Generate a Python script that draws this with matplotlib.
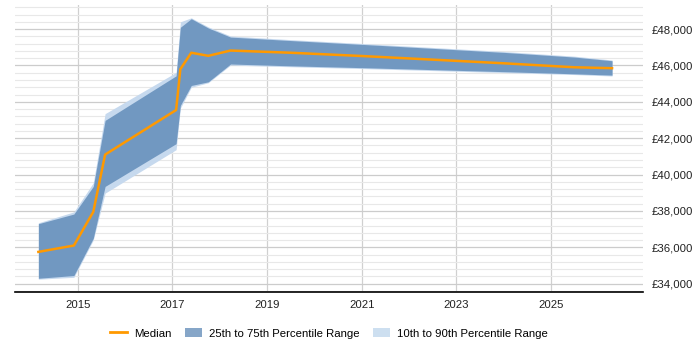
import matplotlib.pyplot as plt
from matplotlib.patches import Patch
from matplotlib.lines import Line2D
from matplotlib.ticker import FuncFormatter, MultipleLocator

# Data
years = [2014.17, 2014.92, 2015.33, 2015.58, 2017.08, 2017.17, 2017.40, 2017.76,
         2018.23, 2019.5, 2021.0, 2022.5, 2024.0, 2025.5, 2026.29]
median = [35750, 36100, 37950, 41100, 43550, 45800, 46700, 46530,
          46820, 46700, 46520, 46320, 46120, 45900, 45850]
p25 = [34300, 34450, 36500, 39350, 41700, 43800, 44900, 45100,
       46080, 45980, 45880, 45770, 45660, 45540, 45470]
p75 = [37300, 37830, 39350, 42980, 45430, 48100, 48570, 48060,
       47560, 47370, 47160, 46940, 46720, 46460, 46260]
p10 = [34250, 34350, 36400, 38980, 41370, 43650, 44800, 45050,
       46020, 45930, 45830, 45720, 45610, 45500, 45420]
p90 = [37350, 37950, 39550, 43350, 45620, 48400, 48620, 48120,
       47620, 47420, 47210, 46990, 46770, 46510, 46300]

year_ticks = [2015, 2017, 2019, 2021, 2023, 2025]

plt.rcParams['font.family'] = ['Liberation Sans', 'DejaVu Sans']

fig = plt.figure(figsize=(7, 3.5), dpi=100)
ax = fig.add_axes([0.021, 0.166, 0.898, 0.82])

light = '#c6d9ee'
dark = '#7198c1'
orange = '#ff9900'

ax.fill_between(years, p10, p90, color=light, lw=0, zorder=2)
ax.fill_between(years, p25, p75, color=dark, lw=0, zorder=3)
ax.plot(years, median, color=orange, lw=1.8, zorder=4)

ax.set_xlim(2013.67, 2026.95)
ax.set_ylim(33550, 49330)

ax.yaxis.set_major_locator(MultipleLocator(2000))
ax.yaxis.set_minor_locator(MultipleLocator(400))
ax.yaxis.set_major_formatter(FuncFormatter(lambda v, p: f'£{v:,.0f}'))
ax.yaxis.tick_right()
ax.set_xticks(year_ticks)

ax.grid(axis='y', which='major', color='#cccccc', lw=0.9, zorder=0)
ax.grid(axis='y', which='minor', color='#e8e8e8', lw=0.8, zorder=0)
ax.grid(axis='x', which='major', color='#d0d0d0', lw=0.9, zorder=0)

for s in ['top', 'right', 'left']:
    ax.spines[s].set_visible(False)
ax.spines['bottom'].set_color('black')
ax.spines['bottom'].set_linewidth(1.2)

ax.tick_params(axis='both', which='both', length=0, labelsize=8.2, colors='#222222')
ax.tick_params(axis='y', pad=6)
ax.tick_params(axis='x', pad=6)
ax.set_axisbelow(True)

handles = [
    Line2D([0], [0], color=orange, lw=2),
    Patch(facecolor='#86a6c8', edgecolor='none'),
    Patch(facecolor='#cddff0', edgecolor='none'),
]
labels = ['Median', '25th to 75th Percentile Range', '10th to 90th Percentile Range']
fig.legend(handles, labels, loc='center', bbox_to_anchor=(0.47, 0.048), ncol=3,
           frameon=False, fontsize=8.2, handlelength=1.5, handleheight=0.9,
           columnspacing=1.2, handletextpad=0.6)

fig.savefig('out.png', dpi=100)
